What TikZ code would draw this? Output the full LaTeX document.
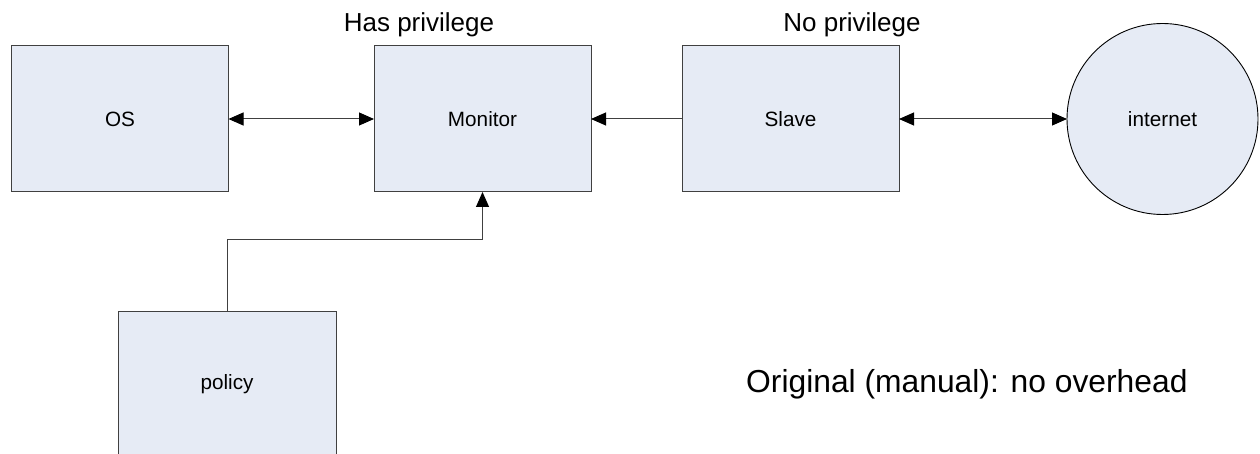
\documentclass[tikz,border=0pt]{standalone}
\usepackage{fontspec}
\setmainfont{Liberation Sans}
\usetikzlibrary{arrows.meta}
\definecolor{boxfill}{RGB}{230,235,245}
\definecolor{edgegray}{RGB}{64,64,64}
\tikzset{
  headtip/.tip={Triangle[length=15pt,width=13pt,color=black]},
  block/.style={draw=edgegray, fill=boxfill, line width=1pt, inner sep=0pt, outer sep=0pt,
    minimum width=217pt, minimum height=146pt, font=\fontsize{20.7}{24}\selectfont},
  cloudnode/.style={circle, draw=black, fill=boxfill, line width=0.9pt, inner sep=0pt,
    outer sep=0pt, minimum size=191pt, font=\fontsize{20.7}{24}\selectfont},
  link/.style={draw=edgegray, line width=1pt, arrows={-headtip}},
  dlink/.style={draw=edgegray, line width=1pt, arrows={headtip-headtip}},
  caption/.style={inner sep=0pt, font=\fontsize{26}{30}\selectfont},
  note/.style={inner sep=0pt, font=\fontsize{31.8}{36}\selectfont}
}
\begin{document}
\begin{tikzpicture}[x=1pt,y=-1pt]
\useasboundingbox (0,0) rectangle (1260,454);
\clip (0,0) rectangle (1260,454);
\fill[white] (0,0) rectangle (1260,454);

% the four blocks and the network
\node[block] (os)      at (120,119)   {OS};
\node[block] (monitor) at (482.5,119) {Monitor};
\node[block] (slave)   at (790.5,119) {Slave};
\node[block, minimum width=218pt] (policy) at (227,384) {policy};
\node[cloudnode] (net) at (1162.5,119) {internet};

% privilege labels above the blocks
\node[caption, anchor=base] (has) at (419,32) {Has privilege};
\node[caption, anchor=base] (nop) at (852,32) {No privilege};

% summary note
\node[note, anchor=base west] (summary) at (746,392) {Original (manual): no overhead};

% connections
\draw[dlink] (os.east) -- (monitor.west);
\draw[link]  (slave.west) -- (monitor.east);
\draw[dlink] (slave.east) -- (net.west);
\draw[link]  (policy.north) -- ++(0,-71) -| (monitor.south);
\end{tikzpicture}
\end{document}
